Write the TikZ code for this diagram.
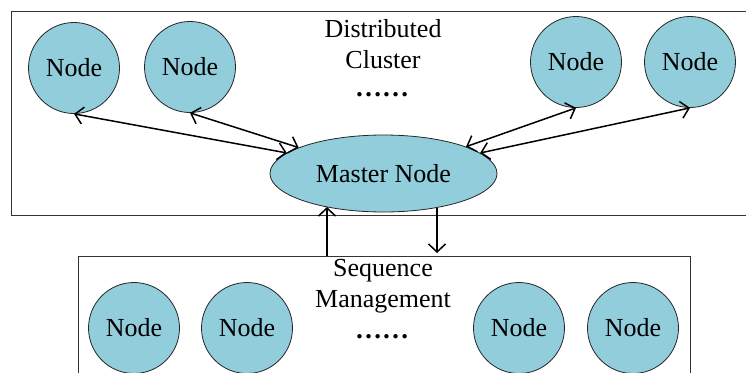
\documentclass[tikz,border=0pt]{standalone}
\usepackage{fontspec}
\setmainfont{Liberation Serif}
\usetikzlibrary{arrows.meta,shapes.geometric}
\definecolor{nodefill}{RGB}{146,205,220}
\begin{document}
\begin{tikzpicture}[x=1pt,y=-1pt,
  every node/.style={font=\fontsize{26}{31}\selectfont},
  wnode/.style={circle,draw=black!85,line width=0.8pt,fill=nodefill,minimum size=91pt,inner sep=0pt},
  master/.style={ellipse,draw=black!85,line width=0.8pt,fill=nodefill,minimum width=227pt,minimum height=77pt,inner sep=0pt},
  boxline/.style={draw=black!80,line width=0.9pt},
  dots/.style={font=\fontsize{27}{31}\selectfont\bfseries,inner sep=1pt},
  barb/.tip={Straight Barb[length=8pt,width=17pt]},
  link/.style={line width=1.5pt,barb-barb},
  one/.style={line width=1.5pt,-barb}]
\useasboundingbox (0,0) rectangle (746,372);
\clip (0,0) rectangle (746,372);
\draw[boxline] (760,11) -- (11,11) -- (11,215) -- (760,215);
\draw[boxline] (78,380) -- (78,256) -- (690,256) -- (690,380);
\node[wnode] (n1) at (74,68) {Node};
\node[wnode] (n2) at (190,67) {Node};
\node[wnode] (n3) at (576,62) {Node};
\node[wnode] (n4) at (690,62) {Node};
\node[master] (m) at (383.5,173.5) {Master Node};
\node[align=center] (t1) at (383,44) {Distributed\\Cluster};
\node[dots] (d1) at (382,95) {……};
\node[align=center] (t2) at (383,286) {Sequence\\Management};
\node[dots] (d2) at (382,337) {……};
\node[wnode] (b1) at (134,328) {Node};
\node[wnode] (b2) at (247,328) {Node};
\node[wnode] (b3) at (519,328) {Node};
\node[wnode] (b4) at (633,328) {Node};
\draw[link] (n1.south) -- (m.168.5);
\draw[link] (n2.south) -- (m.163);
\draw[link] (n3.south) -- (m.18.6);
\draw[link] (n4.south) -- (m.12);
\coordinate (u0) at (327,256);
\coordinate (d0) at (437,253);
\draw[one] (u0) -- (u0 |- m.210);
\draw[one] (d0 |- m.328) -- (d0);
\end{tikzpicture}
\end{document}
